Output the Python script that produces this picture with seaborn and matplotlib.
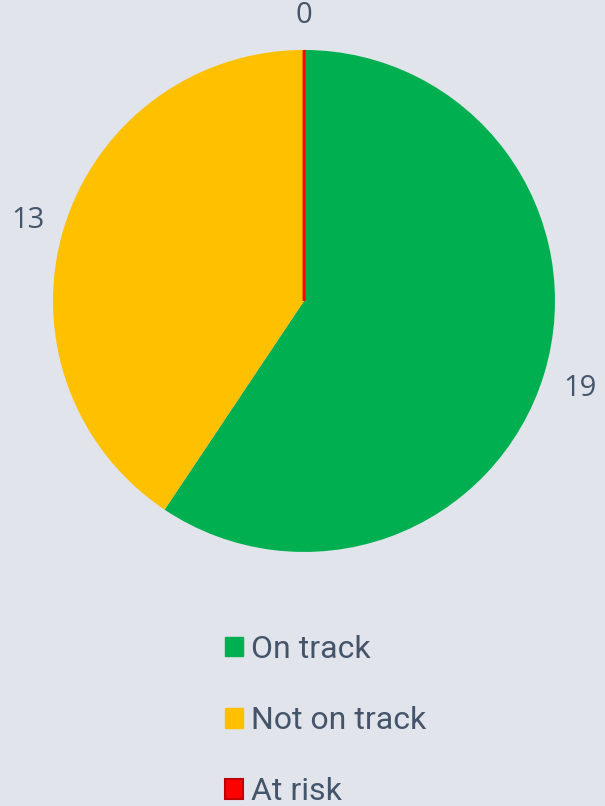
import matplotlib.pyplot as plt
import seaborn as sns
from matplotlib.patches import Patch

# data
categories = ["On track", "Not on track", "At risk"]
counts = [19, 13, 0]
colors = ["#00B050", "#FFC000", "#FF0000"]

bg = "#E1E4EB"
txt = "#44546A"

sns.set_style("white")
plt.rcParams["font.family"] = ["Roboto", "DejaVu Sans"]

fig = plt.figure(figsize=(6.05, 8.06), dpi=100, facecolor=bg)
ax = fig.add_axes([0.0876, 0.3152, 0.8298, 0.6228])
ax.set_facecolor(bg)

wedges, texts = ax.pie(
    counts,
    colors=colors,
    labels=[str(c) for c in counts],
    startangle=90,
    counterclock=False,
    labeldistance=1.15,
    textprops={"color": txt, "fontsize": 21, "family": ["Open Sans", "DejaVu Sans"]},
    wedgeprops={"linewidth": 0},
)
for t in texts:
    t.set_ha("center")
    t.set_va("center_baseline")

# zero-value slice still shows as a thin red line
wedges[2].set_edgecolor("#FF0000")
wedges[2].set_linewidth(2)
wedges[2].set_zorder(3)

ax.set_xlim(-1, 1)
ax.set_ylim(-1, 1)
ax.set_aspect("equal")
ax.axis("off")

handles = [
    Patch(facecolor=colors[0], edgecolor=colors[0]),
    Patch(facecolor=colors[1], edgecolor=colors[1]),
    Patch(facecolor=colors[2], edgecolor="#C00000", linewidth=1.5),
]
leg = fig.legend(
    handles, categories,
    loc="upper left",
    bbox_to_anchor=(225 / 605, 1 - 635 / 806),
    frameon=False,
    fontsize=23,
    labelcolor=txt,
    handlelength=0.56,
    handleheight=0.56,
    handletextpad=0.25,
    labelspacing=1.32,
    borderpad=0,
    borderaxespad=0,
)

fig.savefig("out.png", dpi=100, facecolor=bg)
